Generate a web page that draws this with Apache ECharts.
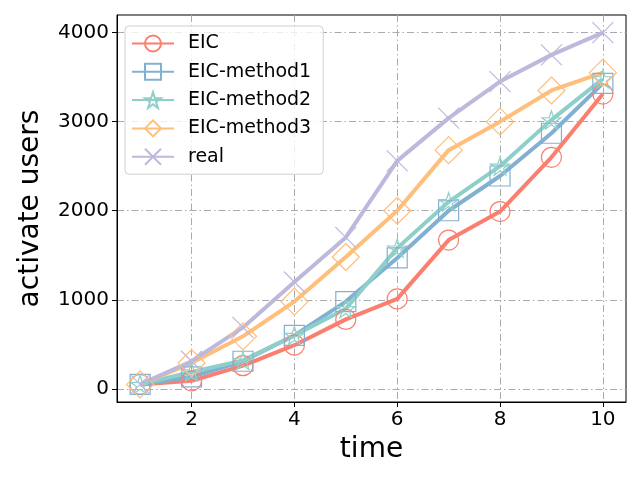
<!DOCTYPE html>
<html>
<head>
<meta charset="utf-8">
<script src="https://cdn.jsdelivr.net/npm/echarts@6/dist/echarts.min.js"></script>
<style>html,body{margin:0;padding:0;background:#fff}#c{width:640px;height:480px}</style>
</head>
<body>
<div id="c"></div>
<script>
const times = [1, 2, 3, 4, 5, 6, 7, 8, 9, 10];
const eic = [50, 90, 260, 490, 780, 1010, 1670, 1990, 2600, 3310];
const method1 = [50, 135, 310, 600, 980, 1470, 2000, 2390, 2870, 3430];
const method2 = [50, 190, 320, 600, 900, 1580, 2100, 2500, 3020, 3480];
const method3 = [50, 290, 590, 980, 1480, 2000, 2680, 3000, 3350, 3550];
const real = [50, 310, 690, 1200, 1700, 2560, 3040, 3450, 3750, 4000];
const xTicks = [2, 4, 6, 8, 10];
const yTicks = [0, 1000, 2000, 3000, 4000];
const names = ['EIC', 'EIC-method1', 'EIC-method2', 'EIC-method3', 'real'];
const colors = ['#FA7F6F', '#82B0D2', '#8ECFC9', '#FFBE7A', '#BEB8DC'];

const STAR = 'path://M100,0L122.45,69.1L195.11,69.1L136.33,111.8L158.78,180.9L100,138.2L41.22,180.9L63.67,111.8L4.89,69.1L77.55,69.1Z';
const XMARK = 'path://M0,0L100,100M100,0L0,100';
const symbols = ['circle', 'rect', STAR, 'diamond', XMARK];
const sizes = [20, 20, 19, 27, 21];
const seriesData = [eic, method1, method2, method3, real];

const font = 'DejaVu Sans';
const gridLine = {show: true, lineStyle: {color: '#aaaaaa', width: 1, type: [7, 3, 1.5, 3]}};

const chart = echarts.init(document.getElementById('c'), null, {renderer: 'canvas'});
chart.setOption({
  animation: false,
  color: colors,
  grid: {left: 117, right: 14, top: 15, bottom: 78, show: true, borderColor: '#000', borderWidth: 1, backgroundColor: 'transparent'},
  legend: {
    left: 125, top: 26, orient: 'vertical',
    itemWidth: 42, itemHeight: 20, itemGap: 9.3,
    padding: [8, 12, 8, 6],
    borderColor: '#d0d0d0', borderWidth: 1, borderRadius: 4,
    backgroundColor: 'rgba(255,255,255,0.8)',
    textStyle: {fontFamily: font, fontSize: 19, color: '#000', padding: [0, 0, 0, 9]},
    data: names
  },
  xAxis: {
    type: 'value', min: 0.55, max: 10.45,
    name: 'time', nameLocation: 'middle', nameGap: 34,
    nameTextStyle: {fontFamily: font, fontSize: 28, color: '#000'},
    axisLine: {show: true, onZero: false, lineStyle: {color: '#000', width: 1}},
    axisTick: {show: true, inside: false, length: 5, customValues: xTicks, lineStyle: {color: '#000'}},
    axisLabel: {customValues: xTicks, formatter: v => String(v), fontFamily: font, fontSize: 20, color: '#000', margin: 8},
    splitLine: gridLine
  },
  yAxis: {
    type: 'value', min: -147.5, max: 4197.5,
    name: 'activate users', nameLocation: 'middle', nameGap: 72,
    nameTextStyle: {fontFamily: font, fontSize: 28, color: '#000'},
    axisLine: {show: true, onZero: false, lineStyle: {color: '#000', width: 1}},
    axisTick: {show: true, inside: false, length: 5, customValues: yTicks, lineStyle: {color: '#000'}},
    axisLabel: {customValues: yTicks, formatter: v => String(v), fontFamily: font, fontSize: 20, color: '#000', margin: 8},
    splitLine: gridLine
  },
  series: names.map((n, i) => ({
    name: n, type: 'line',
    data: times.map((t, j) => [t, seriesData[i][j]]),
    symbol: symbols[i], symbolSize: sizes[i], symbolKeepAspect: true,
    showAllSymbol: true,
    lineStyle: {color: colors[i], width: 4},
    itemStyle: {color: 'rgba(255,255,255,0)', borderColor: colors[i], borderWidth: 1.2},
    emphasis: {disabled: true}
  }))
});
</script>
</body>
</html>
